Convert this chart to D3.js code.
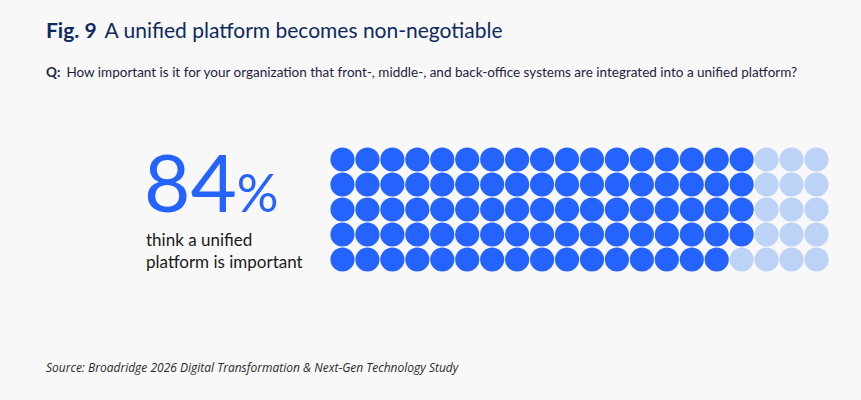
<!DOCTYPE html>
<html>
<head>
<meta charset="utf-8">
<script src="https://cdn.jsdelivr.net/npm/d3@7"></script>
<style>
  body { margin: 0; background: #f8f8f8; }
  svg { display: block; }
</style>
</head>
<body>
<div id="chart"></div>
<script>
// svg params
var svgWidth = 861;
var svgHeight = 400;

// data
var share = 84;          // percent who think a unified platform is important
var totalDots = 100;
var gridRows = 5;
var gridCols = 20;
var labelLines = ["think a unified", "platform is important"];

var svg = d3.select("#chart").append("svg")
  .attr("width", svgWidth)
  .attr("height", svgHeight);

svg.append("rect")
  .attr("width", svgWidth)
  .attr("height", svgHeight)
  .attr("fill", "#f8f8f8");

// title
var title = svg.append("text")
  .attr("x", 46)
  .attr("y", 38)
  .attr("fill", "#0e2a5e")
  .style("font-family", "Lato, sans-serif")
  .style("font-size", "21px");
title.append("tspan").style("font-weight", "bold").text("Fig. 9");
title.append("tspan").attr("dx", 8).text("A unified platform becomes non-negotiable");

// question
var question = svg.append("text")
  .attr("x", 46)
  .attr("y", 77)
  .attr("fill", "#1c2340")
  .style("font-family", "Lato, sans-serif")
  .style("font-size", "13.5px");
question.append("tspan").style("font-weight", "bold").text("Q:");
question.append("tspan").attr("dx", 6)
  .text("How important is it for your organization that front-, middle-, and back-office systems are integrated into a unified platform?");

// big number
var big = svg.append("text")
  .attr("x", 144)
  .attr("y", 212)
  .attr("fill", "#2563ff")
  .style("font-family", "Lato, sans-serif")
  .style("font-weight", 400);
big.append("tspan").style("font-size", "80px").text(share);
big.append("tspan").style("font-size", "52px").text("%");

svg.append("g").selectAll("text")
  .data(labelLines)
  .enter()
  .append("text")
  .attr("x", 146)
  .attr("y", (d, i) => 246 + i * 22)
  .attr("fill", "#1a1a1a")
  .style("font-family", "Lato, sans-serif")
  .style("font-size", "17px")
  .text(d => d);

// dot grid, filled column by column
var dots = d3.range(totalDots).map(function(i) {
  return { col: Math.floor(i / gridRows), row: i % gridRows, on: i < share };
});

var xScale = d3.scaleBand()
  .domain(d3.range(gridCols))
  .range([330, 829]);
var yScale = d3.scaleBand()
  .domain(d3.range(gridRows))
  .range([147, 272]);

svg.append("g").selectAll("circle")
  .data(dots)
  .enter()
  .append("circle")
  .attr("cx", d => xScale(d.col) + xScale.bandwidth() / 2)
  .attr("cy", d => yScale(d.row) + yScale.bandwidth() / 2)
  .attr("r", xScale.bandwidth() / 2 - 0.4)
  .attr("fill", d => d.on ? "#2563ff" : "#bcd2f6");

// source
svg.append("text")
  .attr("x", 46)
  .attr("y", 372)
  .attr("fill", "#2a2a2a")
  .style("font-family", "'Open Sans', sans-serif")
  .style("font-style", "italic")
  .style("font-size", "12px")
  .text("Source: Broadridge 2026 Digital Transformation & Next-Gen Technology Study");
</script>
</body>
</html>
